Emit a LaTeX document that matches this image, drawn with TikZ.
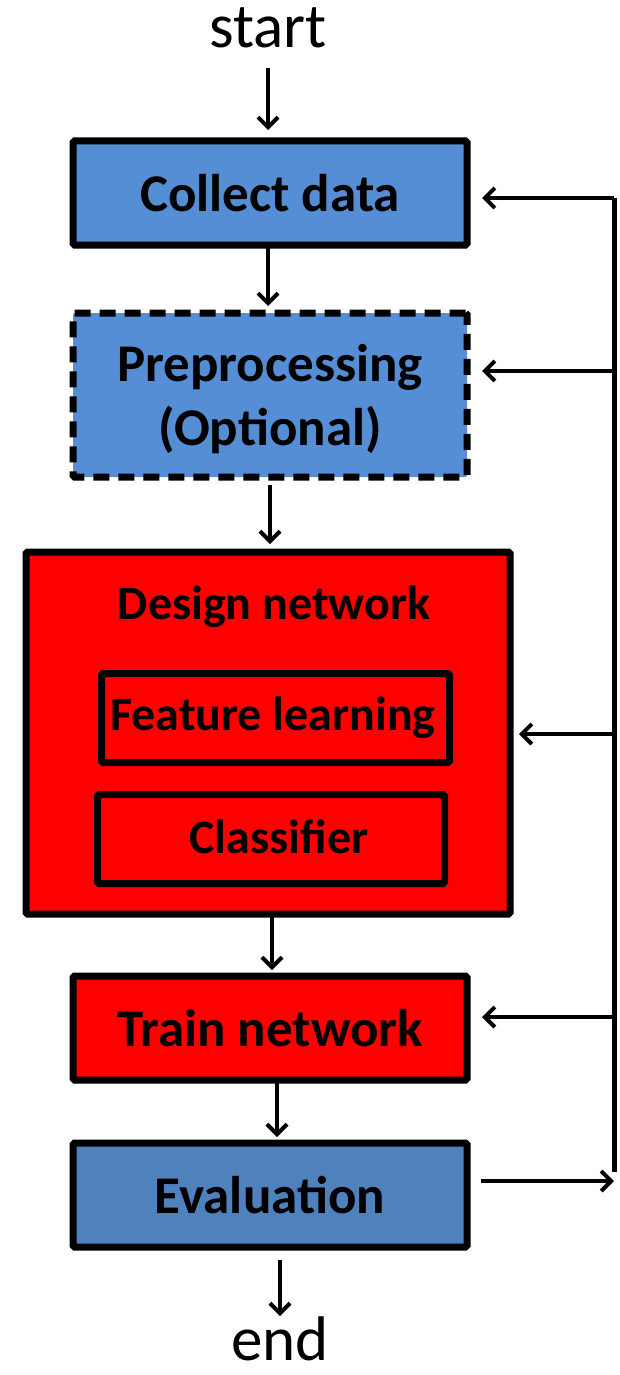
\documentclass[tikz,border=0pt]{standalone}
\usepackage{fontspec}
\setmainfont{Carlito}
\usetikzlibrary{arrows.meta}
\definecolor{lblue}{HTML}{558ED5}
\definecolor{dblue}{HTML}{4F81BD}
\definecolor{pred}{HTML}{FF0000}
\tikzset{
  box/.style={draw=black, line width=7pt, rounded corners=1.5pt, inner sep=0pt, font=\fontsize{53}{60}\selectfont\bfseries, align=center},
  inbox/.style={draw=black, line width=7pt, rounded corners=1.5pt, inner sep=0pt, fill=pred},
  lbl/.style={inner sep=0pt, font=\fontsize{53}{60}\selectfont\bfseries},
  slbl/.style={inner sep=0pt, font=\fontsize{48}{56}\selectfont\bfseries},
  term/.style={inner sep=0pt, anchor=base, font=\fontsize{63}{70}\selectfont},
  arr/.style={line width=4pt, -{Straight Barb[length=10pt,width=20pt,line width=4pt]}},
  ln/.style={line width=4pt}
}
\begin{document}
\begin{tikzpicture}[x=1pt,y=-1pt]
\useasboundingbox (0,0) rectangle (619,1375);
% terminals
\node[term] (start) at (268,48) {start};
\node[term] (end) at (280,1360) {end};
% boxes
\node[box, fill=lblue, minimum width=394pt, minimum height=104pt] (collect) at (270,193) {Collect data};
\node[box, fill=lblue, dash pattern=on 16pt off 9pt, minimum width=394pt, minimum height=164pt] (pre) at (270,395) {};
\node[lbl] (pre1) at (270,367) {Preprocessing};
\node[lbl] (pre2) at (270,430) {(Optional)};
\node[box, fill=pred, minimum width=484pt, minimum height=362pt] (design) at (268,733) {};
\node[slbl] (dtitle) at (274,607) {Design network};
\node[inbox, minimum width=348pt, minimum height=89pt] (feat) at (275.5,718) {};
\node[slbl] (featl) at (273,718) {Feature learning};
\node[inbox, minimum width=347pt, minimum height=89pt] (cls) at (271,839) {};
\node[slbl] (clsl) at (279,837) {Classifier};
\node[box, fill=pred, minimum width=394pt, minimum height=104pt] (train) at (270,1028) {Train network};
\node[box, fill=dblue, minimum width=394pt, minimum height=104pt] (eval) at (270,1195) {Evaluation};
% main flow
\draw[arr] (268,68) -- (268,130);
\draw[arr] (268,248) -- (268,306);
\draw[arr] (270,485) -- (270,544);
\draw[arr] (272,917) -- (272,970);
\draw[arr] (277,1083) -- (277,1137);
\draw[arr] (280,1260) -- (280,1316);
% feedback
\coordinate (ftop) at (614,198);
\coordinate (fbot) at (614,1172);
\coordinate (fout) at (614,1181);
\coordinate (f2) at (614,371);
\coordinate (f3) at (614,734);
\coordinate (f4) at (614,1017);
\draw[line width=5pt] (ftop) -- (fbot);
\draw[arr] (ftop) -- (482,198);
\draw[arr] (f2) -- (482,371);
\draw[arr] (f3) -- (519,734);
\draw[arr] (f4) -- (482,1017);
\draw[arr] (481,1181) -- (fout);
\end{tikzpicture}
\end{document}
